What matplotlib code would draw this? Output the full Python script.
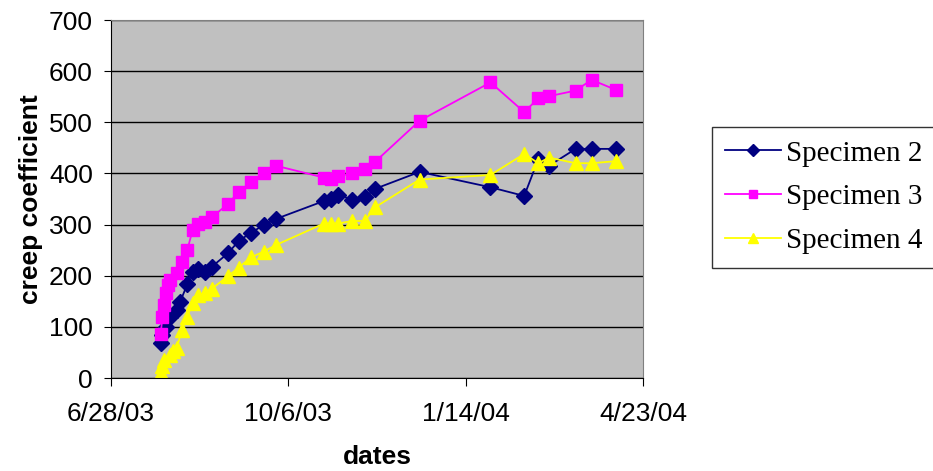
import pandas as pd
import matplotlib
matplotlib.use("Agg")
import matplotlib.pyplot as plt

dates2 = ["7/26/03", "7/27/03", "7/29/03", "7/31/03", "8/4/03", "8/6/03", "8/10/03",
          "8/13/03", "8/16/03", "8/20/03", "8/24/03", "9/2/03", "9/8/03", "9/15/03",
          "9/22/03", "9/29/03", "10/26/03", "10/30/03", "11/3/03", "11/11/03", "11/18/03",
          "11/24/03", "12/19/03", "1/28/04", "2/16/04", "2/24/04", "3/1/04", "3/16/04",
          "3/25/04", "4/8/04"]
spec2 = [68, 85, 100, 120, 133, 149, 183, 208, 213, 208, 218, 244, 268, 284, 299, 311,
         346, 350, 358, 349, 353, 370, 403, 373, 356, 428, 415, 448, 448, 448]

dates3 = ["7/26/03", "7/27/03", "7/28/03", "7/29/03", "7/30/03", "7/31/03", "8/4/03",
          "8/7/03", "8/10/03", "8/13/03", "8/16/03", "8/20/03", "8/24/03", "9/2/03",
          "9/8/03", "9/15/03", "9/22/03", "9/29/03", "10/26/03", "10/30/03", "11/3/03",
          "11/11/03", "11/18/03", "11/24/03", "12/19/03", "1/28/04", "2/16/04", "2/24/04",
          "3/1/04", "3/16/04", "3/25/04", "4/8/04"]
spec3 = [86, 119, 143, 166, 182, 192, 205, 226, 250, 289, 302, 306, 315, 340, 364, 383,
         400, 415, 392, 390, 395, 400, 408, 423, 503, 578, 520, 547, 551, 562, 583, 563]

dates4 = ["7/26/03", "7/27/03", "7/28/03", "7/31/03", "8/2/03", "8/4/03", "8/7/03",
          "8/10/03", "8/13/03", "8/16/03", "8/20/03", "8/24/03", "9/2/03", "9/8/03",
          "9/15/03", "9/22/03", "9/29/03", "10/26/03", "10/30/03", "11/3/03", "11/11/03",
          "11/18/03", "11/24/03", "12/19/03", "1/28/04", "2/16/04", "2/24/04", "3/1/04",
          "3/16/04", "3/25/04", "4/8/04"]
spec4 = [9, 23, 35, 45, 52, 58, 94, 120, 146, 162, 166, 175, 199, 216, 236, 247, 260,
         302, 302, 302, 307, 307, 334, 388, 397, 438, 420, 431, 420, 420, 424]

tick_labels = ["6/28/03", "10/6/03", "1/14/04", "4/23/04"]

fmt = "%m/%d/%y"
d2 = pd.to_datetime(dates2, format=fmt)
d3 = pd.to_datetime(dates3, format=fmt)
d4 = pd.to_datetime(dates4, format=fmt)
ticks = pd.to_datetime(tick_labels, format=fmt)

plt.rcParams["font.family"] = "Liberation Sans"

fig = plt.figure(figsize=(9.33, 4.71), dpi=100)
ax = fig.add_axes([111/933, 93/471, 532/933, 358/471])
ax.set_facecolor("#C0C0C0")

l2, = ax.plot(d2, spec2, color="#000080", marker="D", ms=8, lw=1.3, label="Specimen 2")
l3, = ax.plot(d3, spec3, color="#FF00FF", marker="s", ms=8, lw=1.3, label="Specimen 3")
l4, = ax.plot(d4, spec4, color="#FFFF00", marker="^", ms=9.5, lw=1.3, label="Specimen 4")

ax.set_ylim(0, 700)
ax.set_yticks(range(0, 701, 100))
ax.set_xlim(ticks[0], ticks[-1])
ax.set_xticks(ticks)
ax.set_xticklabels(tick_labels)
ax.yaxis.grid(True, color="black", lw=1)
ax.set_axisbelow(True)

for s in ["top", "right"]:
    ax.spines[s].set_color("#808080")
ax.spines["left"].set_color("black")
ax.spines["bottom"].set_color("black")

ax.tick_params(axis="y", direction="out", length=5, pad=8, labelsize=19)
ax.tick_params(axis="x", direction="out", length=6, pad=11, labelsize=19)

ax.set_xlabel("dates", fontsize=19, fontweight="bold", labelpad=14)
ax.set_ylabel("creep coefficient", fontsize=19, fontweight="bold", labelpad=4)

leg = fig.legend(handles=[l2, l3, l4], loc="upper left",
                 bbox_to_anchor=(712/933, 1 - 127/471), frameon=True, fancybox=False,
                 prop={"family": "Liberation Serif", "size": 21}, markerscale=0.75,
                 handlelength=1.9, handletextpad=0.2, labelspacing=0.6, borderpad=0.45,
                 borderaxespad=0)
leg.get_frame().set_edgecolor("black")
leg.get_frame().set_linewidth(1)

fig.savefig("out.png", dpi=100)
